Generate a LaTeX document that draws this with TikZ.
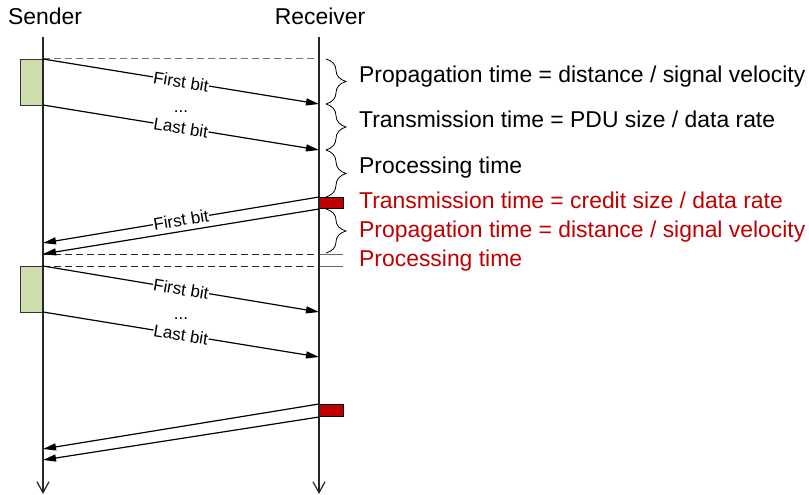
\documentclass[tikz,border=0pt]{standalone}
\usepackage{fontspec}
\setmainfont{Liberation Sans}
\usetikzlibrary{arrows.meta,decorations.pathreplacing}
\definecolor{boxgreen}{RGB}{205,221,172}
\definecolor{darkred}{RGB}{192,0,0}
\tikzset{
  lifeline/.style={line width=1.2pt, draw=black!85, -{Straight Barb[length=11pt,width=12pt,line width=1.2pt]}},
  msg/.style={line width=1.2pt, -{Triangle[length=13pt,width=7pt]}},
  bitlabel/.style={sloped, fill=white, inner sep=0.5pt, font=\fontsize{17}{20}\selectfont},
  dots/.style={anchor=base, inner sep=0pt, font=\fontsize{17}{20}\selectfont},
  bigtext/.style={anchor=base west, inner sep=0pt, font=\fontsize{22.9}{27}\selectfont},
  redtext/.style={bigtext, text=darkred},
  sendbox/.style={draw=black!80, line width=1pt, fill=boxgreen},
  recvbox/.style={draw=black, line width=1pt, fill=darkred},
  timebrace/.style={decorate, decoration={brace, amplitude=20pt, aspect=0.5}, line width=0.8pt},
  guide/.style={draw=black!55, line width=1pt, dash pattern=on 7pt off 4pt},
  guideb/.style={draw=black!85, line width=1pt, dash pattern=on 7pt off 4pt},
  tick/.style={draw=black!60, line width=1pt}
}
\begin{document}
\begin{tikzpicture}[x=1pt,y=-1pt]
\useasboundingbox (0,0) rectangle (809,495);
% headers
\node[anchor=base, inner sep=0pt, font=\fontsize{22.9}{27}\selectfont] (snd) at (45,25) {Sender};
\node[anchor=base, inner sep=0pt, font=\fontsize{22.9}{27}\selectfont] (rcv) at (320,25) {Receiver};
% lifeline coordinates
\coordinate (sT) at (43,37);  \coordinate (sB) at (43,494);
\coordinate (rT) at (319,37); \coordinate (rB) at (319,494);
% boxes
\node[sendbox, minimum width=22pt, minimum height=46pt, inner sep=0pt, anchor=north east] (g1) at (43,59) {};
\node[sendbox, minimum width=22pt, minimum height=46pt, inner sep=0pt, anchor=north east] (g2) at (43,266) {};
\node[recvbox, minimum width=24pt, minimum height=11pt, inner sep=0pt, anchor=north west] (r1) at (319,197) {};
\node[recvbox, minimum width=24pt, minimum height=12pt, inner sep=0pt, anchor=north west] (r2) at (319,404) {};
% key points
\coordinate (a1s) at (43,59);   \coordinate (a1e) at (319,104);
\coordinate (a2s) at (43,105);  \coordinate (a2e) at (319,150);
\coordinate (b1e) at (43,243);  \coordinate (b2e) at (43,254);
\coordinate (a3s) at (43,266);  \coordinate (a3e) at (319,312);
\coordinate (a4s) at (43,312);  \coordinate (a4e) at (319,357);
\coordinate (c1e) at (43,449);  \coordinate (c2e) at (43,460);
\coordinate (p254) at (319,254); \coordinate (q254) at (343,254);
\coordinate (p266) at (319,266); \coordinate (q266) at (343,266);
\coordinate (rtop) at (319,59);
% guides
\draw[guide] (a1s) -- (rtop);
\draw[guideb] (b2e) -- (p254);
\draw[guideb] (a3s) -- (p266);
\draw[tick] (p254) -- (q254);
\draw[tick] (p266) -- (q266);
% lifelines
\draw[lifeline] (sT) -- (sB);
\draw[lifeline] (rT) -- (rB);
% messages
\draw[msg] (a1s) -- node[bitlabel, pos=0.5] (l1) {First bit} (a1e);
\draw[msg] (a2s) -- node[bitlabel, pos=0.5] (l2) {Last bit} (a2e);
\node[dots] (d1) at (181,112) {...};
\draw[msg] (r1.north west) -- node[bitlabel, pos=0.5] (l3) {First bit} (b1e);
\draw[msg] (r1.south west) -- (b2e);
\draw[msg] (a3s) -- node[bitlabel, pos=0.5] (l4) {First bit} (a3e);
\draw[msg] (a4s) -- node[bitlabel, pos=0.5] (l5) {Last bit} (a4e);
\node[dots] (d2) at (181,319) {...};
\draw[msg] (r2.north west) -- (c1e);
\draw[msg] (r2.south west) -- (c2e);
% braces
\draw[timebrace] (326,59) -- (326,104);
\draw[timebrace] (326,104) -- (326,150);
\draw[timebrace] (326,150) -- (326,197);
\draw[timebrace] (326,209) -- (326,253);
% texts
\node[bigtext] (t1) at (359,82) {Propagation time = distance / signal velocity};
\node[bigtext] (t2) at (359,128) {Transmission time = PDU size / data rate};
\node[bigtext] (t3) at (359,173) {Processing time};
\node[redtext] (t4) at (359,208) {Transmission time = credit size / data rate};
\node[redtext] (t5) at (359,237) {Propagation time = distance / signal velocity};
\node[redtext] (t6) at (359,266) {Processing time};
\end{tikzpicture}
\end{document}
